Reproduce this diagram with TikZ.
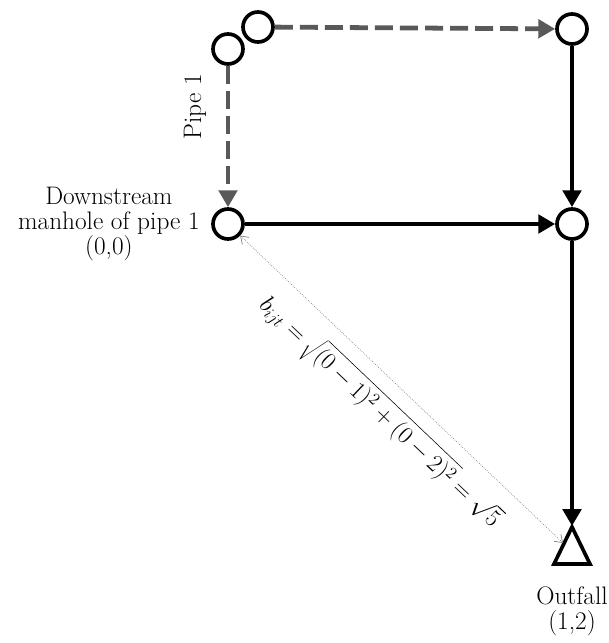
\documentclass[tikz,border=0pt]{standalone}
\usetikzlibrary{arrows.meta,positioning}

\definecolor{pipegray}{RGB}{89,89,89}

\tikzset{
  manhole/.style={circle, draw, line width=2.6pt, minimum size=0.75cm, inner sep=0pt, fill=white},
  outfall/.style={draw, line width=2.6pt, line join=miter},
  pipe/.style={line width=3.4pt, -{Triangle[length=12pt,width=13pt]}},
  newpipe/.style={pipe, pipegray, dash pattern=on 12.8pt off 5pt},
  dist/.style={gray, densely dotted, line width=0.5pt,
    {Straight Barb[length=5pt,width=7pt]}-{Straight Barb[length=5pt,width=7pt]}},
  lbl/.style={font=\fontsize{18}{18}\selectfont, align=center, inner sep=2pt, text=black}
}

\begin{document}
\begin{tikzpicture}[x=0.025cm, y=-0.025cm]
  % picture frame (pixel units)
  \useasboundingbox (0,0) rectangle (609,643);

  %-----------------------------
  % Manholes
  \node[manhole] (up1)  at (258,27)  {};
  \node[manhole] (up0)  at (228,49)  {};
  \node[manhole] (topR) at (572,29)  {};
  \node[manhole] (down) at (228,224) {};
  \node[manhole] (midR) at (572,224) {};

  % Outfall (triangle)
  \coordinate (out)     at (572,526);
  \coordinate (outbase) at (572,564);
  \coordinate (outside) at (563,543);
  \draw[outfall] (572,527) -- (590,564) -- (554,564) -- cycle;

  %-----------------------------
  % New (dashed) pipes
  \draw[newpipe] (up1) -- (topR);
  \draw[newpipe] (up0) -- (down);
  \node[lbl, rotate=90] (pipelbl) at (195,107) {Pipe 1};

  % Existing pipes
  \draw[pipe] (topR) -- (midR);
  \draw[pipe] (down) -- (midR);
  \draw[pipe] (midR) -- (out);

  %-----------------------------
  % Distance to the outfall
  \draw[dist] (down) -- (outside)
       node[midway, sloped, below=8pt, lbl, font=\fontsize{18.5}{18.5}\selectfont] (bdist)
       {$b_{ijt} = \sqrt{(0-1)^2+(0-2)^2} = \sqrt{5}$};

  %-----------------------------
  % Labels
  \node[lbl, left=6pt of down] (downlbl) {Downstream\\manhole of pipe 1\\(0,0)};
  \node[lbl, below=14pt of outbase] (outlbl) {Outfall\\(1,2)};
\end{tikzpicture}
\end{document}
